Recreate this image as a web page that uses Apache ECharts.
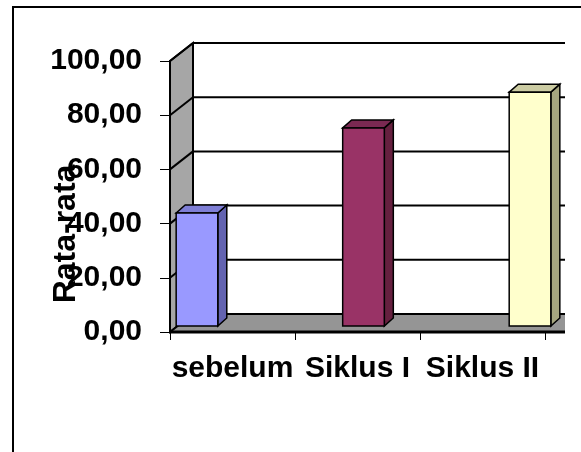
<!DOCTYPE html>
<html>
<head>
<meta charset="utf-8">
<script src="https://cdn.jsdelivr.net/npm/echarts@6/dist/echarts.min.js"></script>
<style>
  html, body { margin: 0; padding: 0; background: #fff; }
  #grafica { width: 581px; height: 452px; }
</style>
</head>
<body>
<div id="grafica"></div>
<script>
const kategori = ["sebelum", "Siklus I", "Siklus II"];
const rataRata = [41.7, 73.1, 86.3];
const posisiBatang = [0, 1, 2];
const tickY = [0, 20, 40, 60, 80, 100];

const warnaDepan = ["#9999ff", "#993366", "#ffffcc"];
const warnaSamping = ["#6363b0", "#66203f", "#a6a680"];
const warnaAtas = ["#7f7fd6", "#7a2952", "#cccca3"];

const huruf = "'Liberation Sans', Arial, sans-serif";
const dinding = { x: 23, y: 18 }; // kedalaman dinding 3D
const batang = { x: 9, y: 8, geser: 6 }; // kedalaman batang

function gambarDinding(params, api) {
  const cs = params.coordSys;
  const x0 = cs.x;
  const x1 = cs.x + cs.width + 20;
  const yNol = api.coord([0, 0])[1];
  const yAtas = api.coord([0, 100])[1];
  const dx = dinding.x, dy = dinding.y;
  const garis = { stroke: "#000", lineWidth: 2 };
  const children = [];

  // dinding kiri
  children.push({
    type: "polygon",
    shape: { points: [[x0, yAtas], [x0 + dx, yAtas - dy], [x0 + dx, yNol - dy], [x0, yNol]] },
    style: { fill: "#a6a6a6", stroke: "#000", lineWidth: 2 }
  });
  // lantai
  children.push({
    type: "polygon",
    shape: { points: [[x0, yNol], [x0 + dx, yNol - dy], [x1, yNol - dy], [x1, yNol]] },
    style: { fill: "#959595" }
  });

  tickY.forEach((v) => {
    const y = api.coord([0, v])[1];
    children.push({ type: "line", shape: { x1: x0, y1: y, x2: x0 + dx, y2: y - dy }, style: garis });
    children.push({ type: "line", shape: { x1: x0 + dx, y1: y - dy, x2: x1, y2: y - dy }, style: garis });
  });

  // garis depan lantai
  children.push({ type: "line", shape: { x1: x0, y1: yNol, x2: x1, y2: yNol }, style: { stroke: "#000", lineWidth: 3 } });

  return { type: "group", children };
}

function gambarBatang(params, api) {
  const i = params.dataIndex;
  const pos = api.value(0);
  const nilai = api.value(1);
  const lebar = api.size([1, 0])[0] * 0.25;
  const dasar = api.coord([pos, 0]);
  const puncak = api.coord([pos, nilai]);
  const xa = dasar[0] - lebar / 2;
  const xb = dasar[0] + lebar / 2;
  const yb = dasar[1] - batang.geser;
  const ya = puncak[1] - batang.geser;
  const dx = batang.x, dy = batang.y;
  const tepi = { stroke: "#000", lineWidth: 1.5 };

  return {
    type: "group",
    children: [
      {
        type: "polygon",
        shape: { points: [[xb, ya], [xb + dx, ya - dy], [xb + dx, yb - dy], [xb, yb]] },
        style: Object.assign({ fill: warnaSamping[i] }, tepi)
      },
      {
        type: "polygon",
        shape: { points: [[xa, ya], [xa + dx, ya - dy], [xb + dx, ya - dy], [xb, ya]] },
        style: Object.assign({ fill: warnaAtas[i] }, tepi)
      },
      {
        type: "rect",
        shape: { x: xa, y: ya, width: lebar, height: yb - ya },
        style: Object.assign({ fill: warnaDepan[i] }, tepi)
      }
    ]
  };
}

let myChart = echarts.init(document.getElementById("grafica"));

myChart.setOption({
  backgroundColor: "#fff",
  animation: false,
  textStyle: { fontFamily: huruf },
  grid: { left: 170, top: 61, width: 375, height: 271 },
  xAxis: [
    {
      type: "category",
      data: kategori,
      axisLine: { show: false },
      axisTick: { show: true, length: 8, lineStyle: { color: "#000", width: 1 } },
      axisLabel: { interval: 0, margin: 22, color: "#000", fontSize: 30, fontWeight: "bold", fontFamily: huruf },
      splitLine: { show: false }
    },
    {
      type: "value",
      min: -0.162,
      max: 2.09,
      show: false
    }
  ],
  yAxis: {
    type: "value",
    min: 0,
    max: 100,
    interval: 20,
    axisLine: { show: true, onZero: false, lineStyle: { color: "#000", width: 2 } },
    axisTick: { show: true, length: 10, lineStyle: { color: "#000", width: 1 } },
    axisLabel: {
      margin: 28,
      color: "#000",
      fontSize: 30,
      fontWeight: "bold",
      fontFamily: huruf,
      formatter: (v) => v.toFixed(2).replace(".", ",")
    },
    splitLine: { show: false }
  },
  graphic: [
    {
      type: "rect",
      z: -10,
      silent: true,
      shape: { x: 13, y: 7, width: 700, height: 600 },
      style: { fill: "none", stroke: "#000", lineWidth: 2 }
    },
    {
      type: "text",
      z: 100,
      x: 66,
      y: 234,
      rotation: Math.PI / 2,
      style: {
        text: "Rata-rata",
        fill: "#000",
        font: "bold 32px " + huruf,
        textAlign: "center",
        textVerticalAlign: "middle"
      }
    }
  ],
  series: [
    {
      type: "custom",
      xAxisIndex: 1,
      yAxisIndex: 0,
      z: 1,
      silent: true,
      clip: false,
      renderItem: gambarDinding,
      data: [[0, 0]]
    },
    {
      type: "custom",
      xAxisIndex: 1,
      yAxisIndex: 0,
      z: 3,
      clip: false,
      renderItem: gambarBatang,
      encode: { x: 0, y: 1 },
      data: posisiBatang.map((p, i) => [p, rataRata[i]])
    }
  ]
});
</script>
</body>
</html>
